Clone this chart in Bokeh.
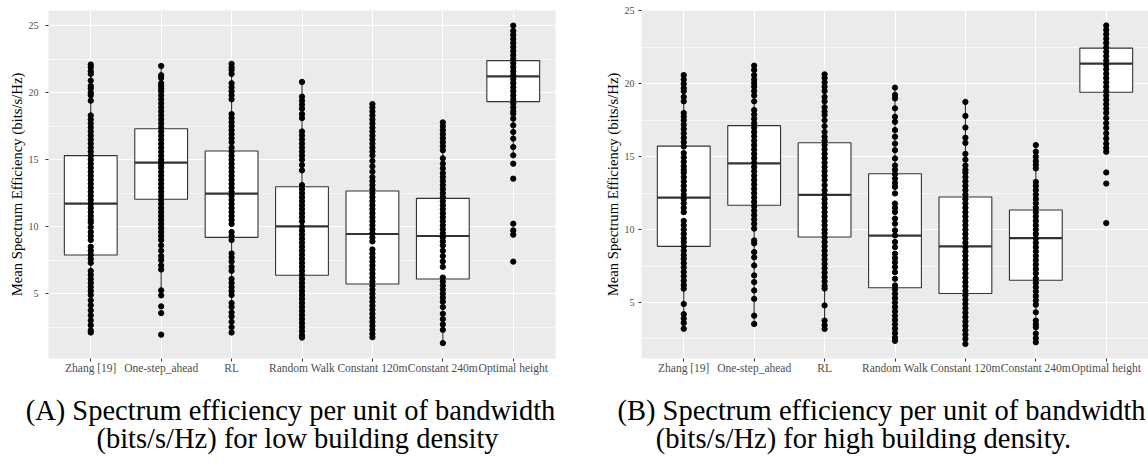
from bokeh.plotting import figure
from bokeh.layouts import row, column
from bokeh.models import Range1d, FixedTicker, Label
from bokeh.embed import file_html
from bokeh.resources import INLINE

categories = ["Zhang [19]", "One-step_ahead", "RL", "Random Walk",
              "Constant 120m", "Constant 240m", "Optimal height"]

# Box statistics, low building density
low_q1 = [7.88, 12.04, 9.20, 6.37, 5.72, 6.09, 19.33]
low_median = [11.72, 14.78, 12.46, 10.02, 9.45, 9.30, 21.22]
low_q3 = [15.30, 17.31, 15.64, 12.98, 12.66, 12.11, 22.39]
low_whisker_lo = [2.1, 4.87, 2.1, 1.72, 1.75, 1.31, 15.32]
low_whisker_hi = [22.1, 21.99, 22.15, 20.8, 19.15, 17.78, 25.0]

# Box statistics, high building density
high_q1 = [8.85, 11.67, 9.49, 6.01, 5.62, 6.53, 19.42]
high_median = [12.20, 14.54, 12.38, 9.59, 8.85, 9.42, 21.39]
high_q3 = [15.73, 17.13, 15.96, 13.83, 12.24, 11.35, 22.45]
high_whisker_lo = [3.2, 3.53, 3.19, 2.37, 2.16, 2.27, 15.34]
high_whisker_hi = [20.6, 21.25, 20.65, 19.74, 18.76, 15.8, 24.0]

# Per-run mean spectrum efficiency, low building density
low_zhang = [22.1, 21.9, 21.6, 21.4, 20.9, 20.5, 20.3, 20.0, 19.8, 19.4, 18.3, 18.0,
             17.7, 17.4, 17.1, 16.8, 16.5, 16.2, 15.9, 15.6, 15.3, 15.0, 14.7, 14.4,
             14.1, 13.8, 13.5, 13.2, 12.9, 12.6, 12.3, 12.0, 11.7, 11.4, 11.1, 10.8,
             10.5, 10.3, 9.95, 9.6, 9.3, 9.0, 8.5, 8.2, 7.9, 7.6, 7.3, 6.7, 6.4, 6.1,
             5.8, 5.5, 5.2, 4.9, 4.5, 4.13, 3.75, 3.38, 3.0, 2.64, 2.26, 2.1]
low_onestep = [21.99, 21.3, 21.1, 20.7, 20.5, 20.3, 20.1, 19.8, 19.5, 19.2, 18.9, 18.6,
               18.3, 18.0, 17.7, 17.4, 17.1, 16.8, 16.5, 16.2, 15.9, 15.6, 15.3, 15.0,
               14.8, 14.6, 14.4, 14.1, 13.8, 13.5, 13.2, 12.9, 12.6, 12.3, 12.0, 11.7,
               11.4, 11.1, 10.8, 10.5, 10.2, 9.9, 9.6, 9.3, 9.0, 8.6, 8.2, 7.8, 7.5,
               7.1, 6.8, 5.25, 4.87, 4.05, 3.55, 1.94]
low_rl = [22.15, 21.9, 21.7, 21.4, 20.7, 20.4, 20.1, 19.8, 19.5, 18.4, 18.1, 17.8,
          17.5, 17.2, 16.9, 16.6, 16.3, 15.9, 15.6, 15.3, 15.0, 14.7, 14.4, 14.1,
          13.8, 13.5, 13.2, 12.9, 12.6, 12.3, 12.0, 11.7, 11.4, 11.1, 10.8, 10.5,
          10.2, 9.6, 9.3, 9.0, 8.0, 7.7, 7.4, 7.0, 6.7, 6.1, 5.8, 5.5, 5.2, 4.9,
          4.3, 4.0, 3.6, 3.3, 2.9, 2.5, 2.1]
low_random = [20.8, 19.7, 19.4, 19.1, 18.8, 18.4, 18.1, 17.1, 16.8, 16.5, 16.2, 15.9,
              15.6, 15.3, 15.0, 14.6, 14.2, 13.1, 12.8, 12.5, 12.2, 11.9, 11.6, 11.3,
              11.0, 10.7, 10.4, 10.0, 9.7, 9.4, 9.1, 8.8, 8.5, 8.2, 7.9, 7.6, 7.3,
              7.0, 6.7, 6.4, 6.1, 5.8, 5.5, 5.2, 4.9, 4.6, 4.3, 4.0, 3.7, 3.4, 3.1,
              2.8, 2.5, 2.2, 1.9, 1.72]
low_c120 = [19.15, 18.9, 18.6, 18.3, 18.0, 17.7, 17.4, 17.1, 16.8, 16.5, 16.2, 15.9,
            15.6, 15.3, 14.9, 14.5, 14.1, 13.7, 13.4, 13.1, 12.8, 12.5, 12.2, 11.9,
            11.6, 11.3, 11.0, 10.7, 10.4, 10.1, 9.8, 9.5, 9.2, 8.9, 8.3, 8.0, 7.7,
            7.4, 7.1, 6.8, 6.5, 6.2, 5.9, 5.6, 5.3, 5.0, 4.7, 4.4, 4.1, 3.8, 3.5,
            3.2, 2.9, 2.6, 2.3, 2.0, 1.75]
low_c240 = [17.78, 17.5, 17.2, 16.9, 16.6, 16.3, 16.0, 15.7, 15.1, 14.7, 14.35, 14.0,
            13.7, 13.4, 13.1, 12.8, 12.5, 12.2, 11.9, 11.6, 11.3, 11.0, 10.7, 10.4,
            10.1, 9.8, 9.5, 9.2, 8.9, 8.6, 8.2, 7.8, 7.4, 7.0, 6.2, 5.9, 5.6, 5.3,
            5.0, 4.7, 4.4, 4.0, 3.5, 3.1, 2.7, 2.3, 1.31]
low_optimal = [25.0, 24.6, 24.3, 24.0, 23.7, 23.4, 23.1, 22.8, 22.5, 22.2, 21.9, 21.6,
               21.3, 21.0, 20.7, 20.4, 20.1, 19.8, 19.5, 19.2, 18.9, 18.6, 18.43,
               18.06, 17.56, 17.06, 16.57, 15.94, 15.32, 14.7, 13.58, 10.22, 9.72,
               9.4, 7.39]

# Per-run mean spectrum efficiency, high building density
high_zhang = [20.6, 20.3, 20.0, 19.7, 19.5, 19.1, 18.8, 18.0, 17.75, 17.5, 17.2, 16.9,
              16.6, 16.3, 16.0, 15.7, 15.25, 14.95, 14.65, 14.35, 14.1, 13.9, 13.6,
              13.3, 13.0, 12.7, 12.4, 12.1, 11.8, 11.5, 11.2, 10.6, 10.3, 10.0, 9.7,
              9.4, 9.15, 8.85, 8.55, 8.25, 8.0, 7.7, 7.4, 7.1, 6.8, 6.5, 6.2, 5.95,
              4.9, 4.2, 3.9, 3.6, 3.2]
high_onestep = [21.25, 20.95, 20.6, 20.3, 20.05, 19.8, 19.5, 19.2, 18.8, 18.2, 17.9,
                17.6, 17.3, 17.0, 16.7, 16.4, 16.1, 15.8, 15.5, 15.2, 14.9, 14.6, 14.3,
                14.0, 13.7, 13.4, 13.1, 12.8, 12.5, 12.2, 11.9, 11.6, 11.3, 11.0, 10.7,
                10.4, 10.07, 9.26, 9.06, 8.46, 8.1, 7.54, 6.86, 6.4, 5.83, 5.25, 4.1,
                3.53]
high_rl = [20.65, 20.4, 20.1, 19.8, 19.5, 19.1, 18.8, 18.4, 18.1, 17.86, 17.5, 17.1,
           16.7, 16.37, 16.1, 15.8, 15.5, 15.2, 14.9, 14.6, 14.3, 14.0, 13.7, 13.4,
           13.05, 12.7, 12.4, 12.1, 11.8, 11.5, 11.2, 10.9, 10.6, 10.3, 10.0, 9.75,
           9.45, 9.15, 8.85, 8.55, 8.25, 7.95, 7.65, 7.35, 7.05, 6.75, 6.45, 6.15,
           5.96, 4.8, 3.76, 3.45, 3.19]
high_random = [19.74, 19.24, 19.0, 18.32, 17.74, 17.4, 16.83, 16.37, 15.9, 15.45,
               14.88, 14.4, 14.1, 13.8, 13.5, 13.2, 12.93, 12.48, 11.79, 11.5, 11.21,
               10.76, 10.41, 9.95, 9.6, 9.15, 8.8, 8.35, 8.05, 7.75, 7.43, 7.08, 6.63,
               6.17, 5.9, 5.6, 5.3, 5.0, 4.7, 4.4, 4.1, 3.8, 3.5, 3.2, 2.9, 2.6, 2.37]
high_c120 = [18.76, 17.8, 17.0, 16.3, 15.95, 15.2, 14.8, 14.4, 14.1, 13.9, 13.6, 13.3,
             13.0, 12.7, 12.4, 12.1, 11.8, 11.5, 11.2, 10.9, 10.6, 10.3, 10.0, 9.7,
             9.4, 9.1, 8.8, 8.5, 8.2, 7.9, 7.6, 7.3, 7.0, 6.7, 6.4, 6.1, 5.8, 5.5,
             5.2, 4.9, 4.6, 4.3, 4.0, 3.7, 3.4, 3.1, 2.8, 2.5, 2.16]
high_c240 = [15.8, 15.34, 15.0, 14.7, 14.45, 14.2, 13.27, 13.0, 12.7, 12.4, 12.1, 11.8,
             11.5, 11.2, 10.9, 10.6, 10.3, 10.0, 9.7, 9.4, 9.1, 8.8, 8.5, 8.2, 7.9,
             7.6, 7.3, 7.0, 6.65, 6.35, 6.05, 5.75, 5.45, 5.15, 4.85, 4.33, 3.76, 3.5,
             3.3, 2.87, 2.55, 2.27]
high_optimal = [24.0, 23.7, 23.4, 23.1, 22.8, 22.5, 22.2, 21.9, 21.6, 21.3, 21.0, 20.7,
                20.4, 20.1, 19.8, 19.5, 19.2, 18.9, 18.6, 18.3, 18.0, 17.65, 17.3,
                16.97, 16.6, 16.25, 15.9, 15.6, 15.34, 13.92, 13.16, 10.45]

low_points = [low_zhang, low_onestep, low_rl, low_random, low_c120, low_c240, low_optimal]
high_points = [high_zhang, high_onestep, high_rl, high_random, high_c120, high_c240, high_optimal]

y_ticks = [5, 10, 15, 20, 25]
y_minor = [2.5, 7.5, 12.5, 17.5, 22.5]
y_title = "Mean Spectrum Efficiency (bits/s/Hz)"

caption_a = ["(A) Spectrum efficiency per unit of bandwidth",
             "(bits/s/Hz) for low building density"]
caption_b = ["(B) Spectrum efficiency per unit of bandwidth",
             "(bits/s/Hz) for high building density."]

SERIF = '"Liberation Serif", "Times New Roman", serif'
BOX_LINE = "#333333"


def make_panel(q1, med, q3, lo, hi, groups, y_start, y_end,
               border_left, border_right, tick_standoff, title_standoff):
    xs = list(range(1, len(categories) + 1))
    p = figure(width=574, height=385,
               x_range=Range1d(0.4, len(categories) + 0.6),
               y_range=Range1d(y_start, y_end),
               output_backend="svg", toolbar_location=None,
               min_border_left=border_left, min_border_right=border_right,
               min_border_top=10, min_border_bottom=27)
    p.background_fill_color = "#EBEBEB"
    p.border_fill_color = "white"
    p.outline_line_color = None

    # grid
    p.xgrid.ticker = FixedTicker(ticks=xs)
    p.ygrid.ticker = FixedTicker(ticks=y_ticks, minor_ticks=y_minor)
    p.grid.grid_line_color = "white"
    p.grid.grid_line_width = 1.1
    p.ygrid.minor_grid_line_color = "white"
    p.ygrid.minor_grid_line_width = 0.6

    # axes
    p.xaxis.ticker = FixedTicker(ticks=xs)
    p.xaxis.major_label_overrides = {x: c for x, c in zip(xs, categories)}
    p.yaxis.ticker = FixedTicker(ticks=y_ticks, minor_ticks=y_minor)
    for ax in (p.xaxis, p.yaxis):
        ax.axis_line_color = None
        ax.minor_tick_line_color = None
        ax.major_tick_in = 0
        ax.major_tick_out = 3
        ax.major_tick_line_color = BOX_LINE
        ax.major_label_text_font = SERIF
        ax.major_label_text_color = "#4D4D4D"
    p.xaxis.major_label_text_font_size = "11.5px"
    p.xaxis.major_label_standoff = 0
    p.yaxis.major_label_text_font_size = "10px"
    p.yaxis.major_label_standoff = tick_standoff
    p.yaxis.axis_label = y_title
    p.yaxis.axis_label_text_font = SERIF
    p.yaxis.axis_label_text_font_style = "normal"
    p.yaxis.axis_label_text_font_size = "14.7px"
    p.yaxis.axis_label_text_color = "black"
    p.yaxis.axis_label_standoff = title_standoff

    # whiskers
    p.segment(x0=xs, y0=q3, x1=xs, y1=hi, line_color=BOX_LINE, line_width=1.1)
    p.segment(x0=xs, y0=lo, x1=xs, y1=q1, line_color=BOX_LINE, line_width=1.1)
    # boxes
    p.vbar(x=xs, width=0.75, bottom=q1, top=q3, fill_color="white",
           line_color=BOX_LINE, line_width=1.1)
    # medians
    p.segment(x0=[x - 0.375 for x in xs], y0=med, x1=[x + 0.375 for x in xs], y1=med,
              line_color=BOX_LINE, line_width=2.2)
    # observations
    px, py = [], []
    for x, vals in zip(xs, groups):
        px.extend([x] * len(vals))
        py.extend(vals)
    p.scatter(px, py, size=5.3, fill_color="black", line_color="black")
    return p


fig_a = make_panel(low_q1, low_median, low_q3, low_whisker_lo, low_whisker_hi,
                   low_points, 0.16, 26.13, 48, 19, 6, 1)
fig_b = make_panel(high_q1, high_median, high_q3, high_whisker_lo, high_whisker_hi,
                   high_points, 1.16, 25.03, 67, 0, 3, 1)

# captions underneath the two panels
cap = figure(width=1148, height=86, x_range=Range1d(0, 1148), y_range=Range1d(86, 0),
             x_axis_type=None, y_axis_type=None,
             output_backend="svg", toolbar_location=None, min_border=0)
cap.grid.visible = False
cap.outline_line_color = None
cap.background_fill_color = "white"
cap.border_fill_color = "white"
for (cx1, cx2), lines in (((290, 297), caption_a), ((881, 863), caption_b)):
    cap.add_layout(Label(x=cx1, y=25, text=lines[0], text_align="center",
                         text_baseline="middle", text_font=SERIF,
                         text_font_size="28.5px", text_color="black"))
    cap.add_layout(Label(x=cx2, y=53, text=lines[1], text_align="center",
                         text_baseline="middle", text_font=SERIF,
                         text_font_size="28.5px", text_color="black"))

layout = column(row(fig_a, fig_b), cap)

with open("out.html", "w") as f:
    f.write(file_html(layout, INLINE))
